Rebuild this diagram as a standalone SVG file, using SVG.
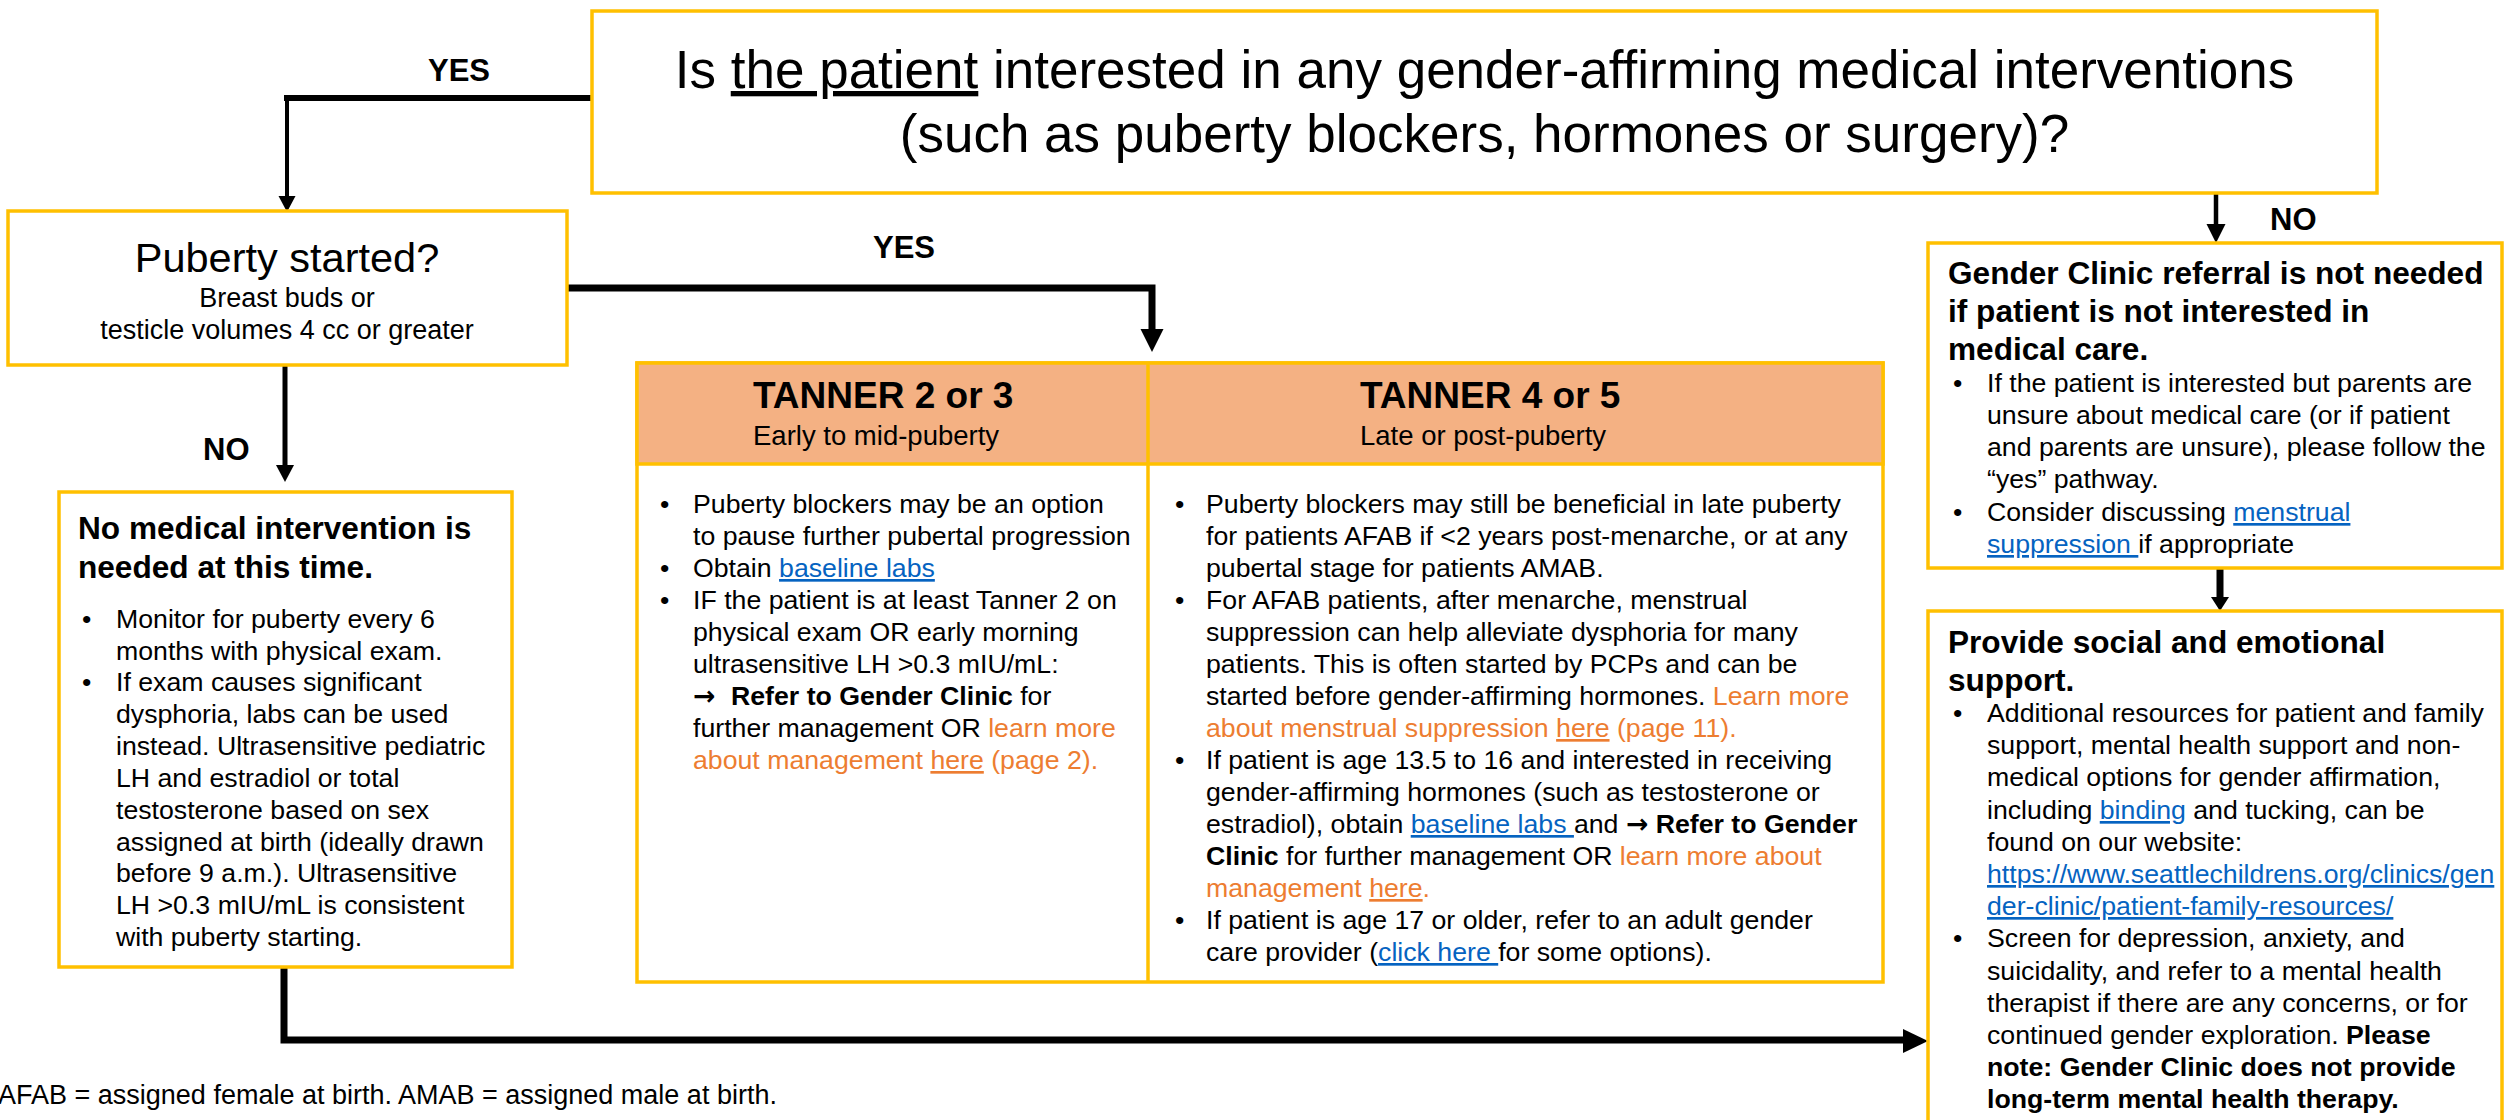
<svg xmlns="http://www.w3.org/2000/svg" width="2504" height="1120" viewBox="0 0 2504 1120">
<style>
text{font-family:"Liberation Sans",Arial,sans-serif;fill:#000}
.box{fill:#fff;stroke:#FFC000;stroke-width:3.5}
.hdr{fill:#F4B183;stroke:#FFC000;stroke-width:3.5}
.gl{stroke:#FFC000;stroke-width:3.5}
.bd{font-size:26.7px}
.ttl{font-size:31.6px;font-weight:bold}
.lbl{font-size:31px;font-weight:bold}
.b{font-weight:bold}
.arr{font-family:"DejaVu Sans",sans-serif;font-weight:bold}
.org{fill:#ED7D31}
.lnk{fill:#0563C1;text-decoration:underline}
.u{text-decoration:underline}
.cn{stroke:#000;fill:none}
.ah{fill:#000;stroke:none}
</style>

<g id="connectors">
  <path class="cn" d="M592 98 H284" stroke-width="6"/>
  <path class="cn" d="M287 98 V198" stroke-width="4"/>
  <polygon class="ah" points="278.5,196 295.5,196 287,212"/>
  <text class="lbl" x="428" y="81">YES</text>

  <path class="cn" d="M567 288 H1152 V331" stroke-width="7"/>
  <polygon class="ah" points="1140.5,329 1163.5,329 1152,352"/>
  <text class="lbl" x="873" y="258">YES</text>

  <path class="cn" d="M285 365 V467" stroke-width="5"/>
  <polygon class="ah" points="276,465 294,465 285,482"/>
  <text class="lbl" x="203" y="460">NO</text>

  <path class="cn" d="M2216 193 V226" stroke-width="4.5"/>
  <polygon class="ah" points="2206.5,224 2225.5,224 2216,243"/>
  <text class="lbl" x="2270" y="230">NO</text>

  <path class="cn" d="M2220 568 V599" stroke-width="7"/>
  <polygon class="ah" points="2211,597 2229,597 2220,611"/>

  <path class="cn" d="M284 967 V1040 H1906" stroke-width="7"/>
  <polygon class="ah" points="1903,1029 1903,1053 1928,1041"/>
</g>

<g id="question">
  <rect class="box" x="592" y="11" width="1785" height="182"/>
  <text x="1484.5" y="88" font-size="53" text-anchor="middle">Is <tspan class="u">the patient</tspan> interested in any gender-affirming medical interventions</text>
  <text x="1484.5" y="152" font-size="53" text-anchor="middle">(such as puberty blockers, hormones or surgery)?</text>
</g>

<g id="puberty">
  <rect class="box" x="8" y="211" width="559" height="154"/>
  <text x="287" y="272" font-size="41.5" text-anchor="middle">Puberty  started?</text>
  <text x="287" y="307" font-size="27" text-anchor="middle">Breast buds or</text>
  <text x="287" y="339" font-size="27" text-anchor="middle">testicle volumes 4 cc or greater</text>
</g>

<g id="no-intervention">
  <rect class="box" x="59" y="492" width="453" height="475"/>
  <text class="ttl" x="78" y="539">No medical  intervention is</text>
  <text class="ttl" x="78" y="578">needed at this time.</text>
  <g class="bd">
    <text x="82" y="628">•</text>
    <text x="116" y="628">Monitor for puberty every 6</text>
    <text x="116" y="660">months with physical exam.</text>
    <text x="82" y="691">•</text>
    <text x="116" y="691">If exam causes significant</text>
    <text x="116" y="723">dysphoria, labs can be used</text>
    <text x="116" y="755">instead. Ultrasensitive pediatric</text>
    <text x="116" y="787">LH and estradiol or total</text>
    <text x="116" y="819">testosterone based on sex</text>
    <text x="116" y="851">assigned at birth (ideally drawn</text>
    <text x="116" y="882">before 9 a.m.). Ultrasensitive</text>
    <text x="116" y="914">LH &gt;0.3 mIU/mL is consistent</text>
    <text x="116" y="946">with puberty starting.</text>
  </g>
</g>

<g id="tanner">
  <rect class="box" x="637" y="363" width="1246" height="619"/>
  <rect class="hdr" x="637" y="363" width="1246" height="101"/>
  <line class="gl" x1="1148" y1="363" x2="1148" y2="982"/>
  <g id="tanner-2-3">
    <text x="753" y="408" font-size="37" font-weight="bold">TANNER 2 or 3</text>
    <text x="753" y="445" font-size="27.5">Early to mid-puberty</text>
    <g class="bd">
      <text x="660" y="513">•</text>
      <text x="693" y="513">Puberty blockers may be an option</text>
      <text x="693" y="545">to pause further pubertal progression</text>
      <text x="660" y="577">•</text>
      <text x="693" y="577">Obtain <tspan class="lnk">baseline labs</tspan></text>
      <text x="660" y="609">•</text>
      <text x="693" y="609">IF the patient is at least Tanner 2 on</text>
      <text x="693" y="641">physical exam OR early morning</text>
      <text x="693" y="673">ultrasensitive LH &gt;0.3 mIU/mL:</text>
      <text x="693" y="705" class="arr">→</text>
      <text x="731" y="705"><tspan class="b">Refer to Gender Clinic</tspan> for</text>
      <text x="693" y="737">further management OR <tspan class="org">learn more</tspan></text>
      <text x="693" y="769" class="org">about management <tspan class="u">here</tspan> (page 2).</text>
    </g>
  </g>
  <g id="tanner-4-5">
    <text x="1360" y="408" font-size="37" font-weight="bold">TANNER 4 or 5</text>
    <text x="1360" y="445" font-size="27.5">Late or post-puberty</text>
    <g class="bd">
      <text x="1175" y="513">•</text>
      <text x="1206" y="513">Puberty blockers may still be beneficial in late puberty</text>
      <text x="1206" y="545">for patients AFAB if &lt;2 years post-menarche, or at any</text>
      <text x="1206" y="577">pubertal stage for patients AMAB.</text>
      <text x="1175" y="609">•</text>
      <text x="1206" y="609">For AFAB patients, after menarche, menstrual</text>
      <text x="1206" y="641">suppression can help alleviate dysphoria for many</text>
      <text x="1206" y="673">patients. This is often started by PCPs and can be</text>
      <text x="1206" y="705">started before gender-affirming hormones. <tspan class="org">Learn more</tspan></text>
      <text x="1206" y="737" class="org">about menstrual suppression <tspan class="u">here</tspan> (page 11).</text>
      <text x="1175" y="769">•</text>
      <text x="1206" y="769">If patient is age 13.5 to 16 and interested in receiving</text>
      <text x="1206" y="801">gender-affirming hormones (such as testosterone or</text>
      <text x="1206" y="833">estradiol), obtain <tspan class="lnk">baseline labs </tspan>and <tspan class="arr">→</tspan><tspan class="b"> Refer to Gender</tspan></text>
      <text x="1206" y="865"><tspan class="b">Clinic</tspan> for further management OR <tspan class="org">learn more about</tspan></text>
      <text x="1206" y="897" class="org">management <tspan class="u">here</tspan>.</text>
      <text x="1175" y="929">•</text>
      <text x="1206" y="929">If patient is age 17 or older, refer to an adult gender</text>
      <text x="1206" y="961">care provider (<tspan class="lnk">click here </tspan>for some options).</text>
    </g>
  </g>
</g>

<g id="not-needed">
  <rect class="box" x="1928" y="243" width="574" height="325"/>
  <text class="ttl" x="1948" y="284">Gender Clinic referral is not needed</text>
  <text class="ttl" x="1948" y="322">if patient is not interested in</text>
  <text class="ttl" x="1948" y="360">medical  care.</text>
  <g class="bd">
    <text x="1953" y="392">•</text>
    <text x="1987" y="392">If the patient is interested but parents are</text>
    <text x="1987" y="424">unsure about medical care (or if patient</text>
    <text x="1987" y="456">and parents are unsure), please follow the</text>
    <text x="1987" y="488">“yes” pathway.</text>
    <text x="1953" y="521">•</text>
    <text x="1987" y="521">Consider discussing <tspan class="lnk">menstrual</tspan></text>
    <text x="1987" y="553"><tspan class="lnk">suppression </tspan>if appropriate</text>
  </g>
</g>

<g id="support">
  <rect class="box" x="1928" y="611" width="574" height="520"/>
  <text class="ttl" x="1948" y="653">Provide social  and emotional</text>
  <text class="ttl" x="1948" y="691">support.</text>
  <g class="bd">
    <text x="1953" y="722">•</text>
    <text x="1987" y="722">Additional resources for patient and family</text>
    <text x="1987" y="754">support, mental health support and non-</text>
    <text x="1987" y="786">medical options for gender affirmation,</text>
    <text x="1987" y="819">including <tspan class="lnk">binding</tspan> and tucking, can be</text>
    <text x="1987" y="851">found on our website:</text>
    <text x="1987" y="883" class="lnk">https://www.seattlechildrens.org/clinics/gen</text>
    <text x="1987" y="915" class="lnk">der-clinic/patient-family-resources/</text>
    <text x="1953" y="947">•</text>
    <text x="1987" y="947">Screen for depression, anxiety, and</text>
    <text x="1987" y="980">suicidality, and refer to a mental health</text>
    <text x="1987" y="1012">therapist if there are any concerns, or for</text>
    <text x="1987" y="1044">continued gender exploration. <tspan class="b">Please</tspan></text>
    <text x="1987" y="1076" class="b">note: Gender Clinic does not provide</text>
    <text x="1987" y="1108" class="b">long-term mental health therapy.</text>
  </g>
</g>

<text id="footnote" x="-2" y="1104" font-size="27">AFAB = assigned female at birth. AMAB = assigned male at birth.</text>
</svg>
